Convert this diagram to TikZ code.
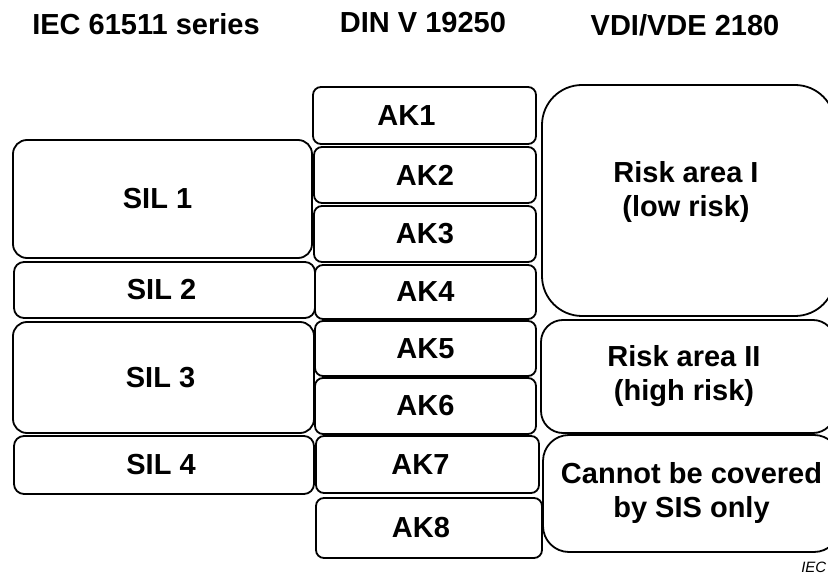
\documentclass[tikz,border=0pt]{standalone}
\usepackage{fontspec}
\setmainfont{Liberation Sans}
\begin{document}
\begin{tikzpicture}[x=1pt,y=-1pt,
  box/.style={draw=black, line width=1.8pt, fill=white, inner sep=0pt, align=center,
              font=\fontsize{29}{34}\selectfont\bfseries},
  silbox/.style={box, rounded corners=14pt},
  akbox/.style={box, rounded corners=8pt},
  head/.style={anchor=base, inner sep=0pt, font=\fontsize{29}{34}\selectfont\bfseries}]
\useasboundingbox (0,0) rectangle (828,577);
\clip (0,0) rectangle (828,577);

% column headings
\node[head] (h1) at (146,35) {IEC 61511 series};
\node[head] (h2) at (423,33) {DIN V 19250};
\node[head] (h3) at (685,36) {VDI/VDE 2180};

% IEC 61511 safety integrity levels
\node[silbox, minimum width=299pt, minimum height=118pt] (sil1) at (162.5,199) {\hspace*{-10pt}SIL 1};
\node[silbox, rounded corners=10pt, minimum width=301pt, minimum height=56pt] (sil2) at (164.5,290) {\hspace*{-6pt}SIL 2};
\node[silbox, minimum width=301pt, minimum height=111pt] (sil3) at (163.5,377.5) {\hspace*{-6pt}SIL 3};
\node[silbox, rounded corners=10pt, minimum width=300pt, minimum height=58pt] (sil4) at (164,465) {\hspace*{-6pt}SIL 4};

% DIN V 19250 requirement classes
\node[akbox, minimum width=223pt, minimum height=57pt] (ak1) at (424.5,115.5) {\hspace*{-36pt}AK1};
\node[akbox, minimum width=222pt, minimum height=56pt] (ak2) at (425,175) {AK2};
\node[akbox, minimum width=222pt, minimum height=56pt] (ak3) at (425,234) {AK3};
\node[akbox, minimum width=221pt, minimum height=54pt] (ak4) at (425.5,292) {AK4};
\node[akbox, minimum width=221pt, minimum height=55pt] (ak5) at (425.5,348.5) {AK5};
\node[akbox, minimum width=221pt, minimum height=56pt] (ak6) at (425.5,406) {AK6};
\node[akbox, minimum width=223pt, minimum height=57pt] (ak7) at (427.5,464.5) {\hspace*{-14pt}AK7};
\node[akbox, minimum width=226pt, minimum height=60pt] (ak8) at (429,528) {\hspace*{-16pt}AK8};

% VDI/VDE 2180 risk areas
\node[box, rounded corners=40pt, minimum width=293pt, minimum height=231pt] (r1) at (688.5,200.5) {};
\node[box, anchor=center, draw=none, fill=none] (r1t) at (686,192) {Risk area I\\(low risk)};
\node[box, rounded corners=22pt, minimum width=294pt, minimum height=113pt] (r2) at (688,376.5)
  {\hspace*{-8pt}Risk area II\\\hspace*{-8pt}(high risk)};
\node[box, rounded corners=26pt, minimum width=297pt, minimum height=117pt] (r3) at (691.5,493.5)
  {Cannot be covered\\by SIS only};

% source tag
\node[anchor=base east, inner sep=0pt, font=\fontsize{15}{18}\selectfont\itshape] (src) at (826.5,572) {IEC};
\end{tikzpicture}
\end{document}
